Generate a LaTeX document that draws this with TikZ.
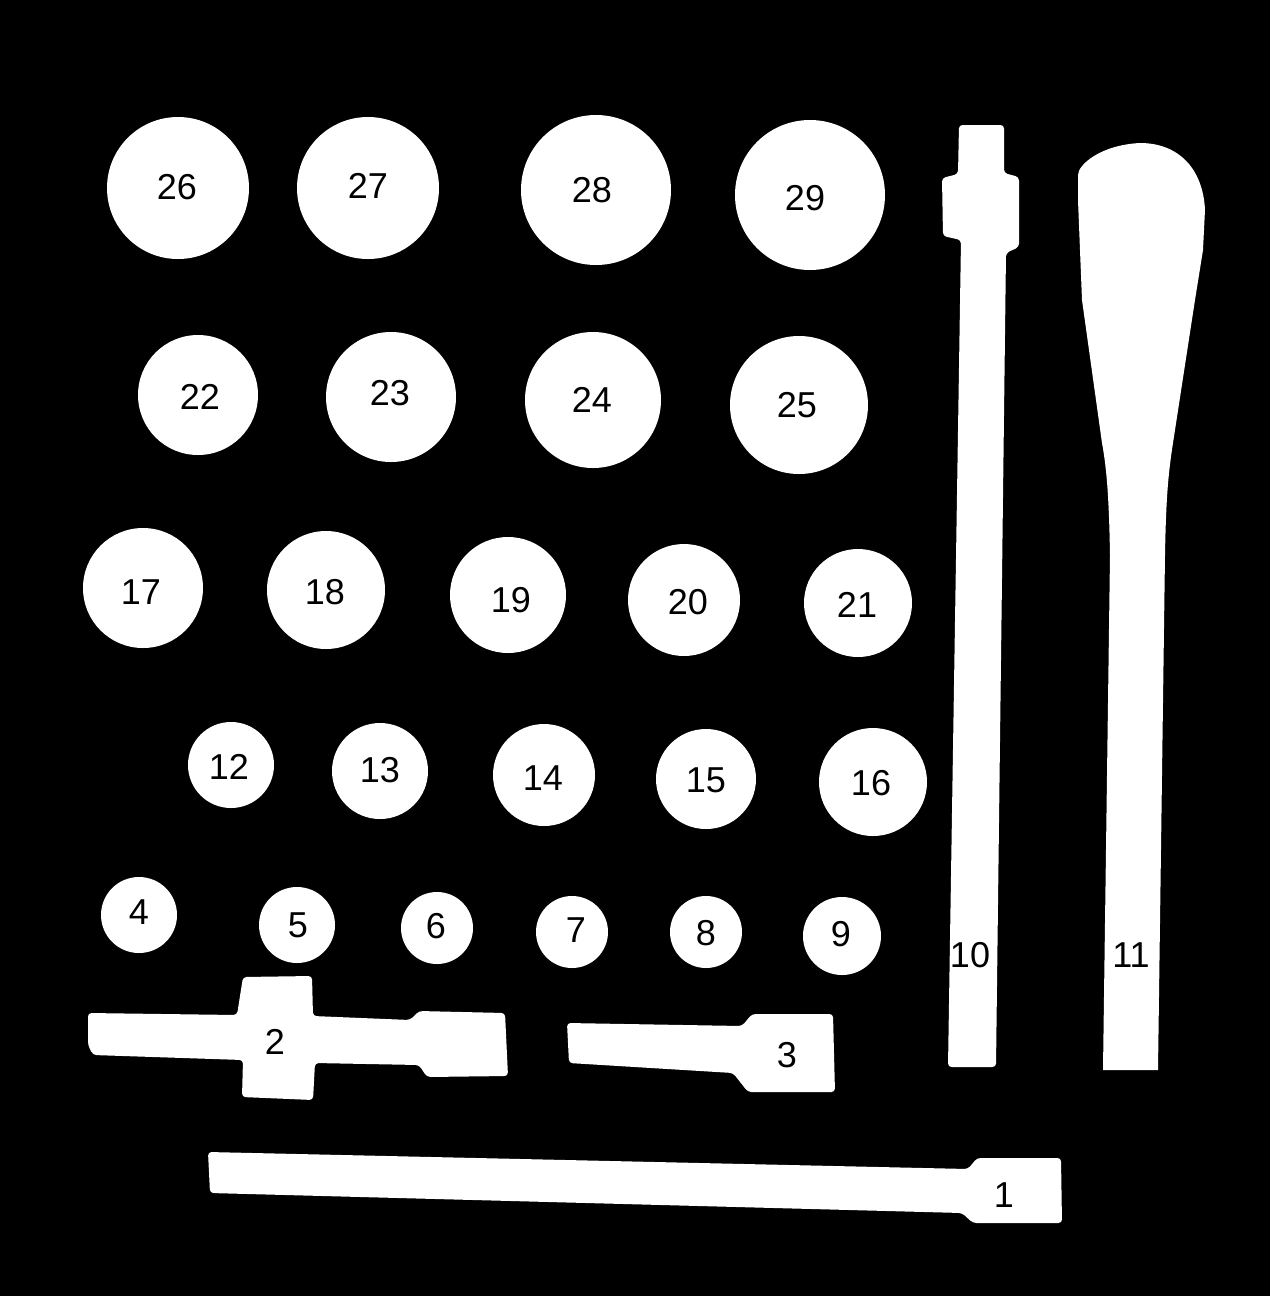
\documentclass[tikz,border=0pt]{standalone}
\usepackage{fontspec}
\setmainfont{Liberation Sans}
\usepackage{tikz}
\tikzset{
  hole/.style={fill=white},
  tool/.style={fill=white, rounded corners=2pt},
  num/.style={text=black, inner sep=0pt, font=\fontsize{20.5}{24}\selectfont},
}

\begin{document}
\begin{tikzpicture}[x=0.02cm, y=-0.02cm]
  % board
  \useasboundingbox (0,0) rectangle (1270,1296);
  \fill[black] (0,0) rectangle (1270,1296);
  % row of large holes
  \fill[hole] (178,188) circle[radius=71]; \node[num] (n26) at (177,187) {26};
  \fill[hole] (368,188) circle[radius=71]; \node[num] (n27) at (368,186) {27};
  \fill[hole] (596,190) circle[radius=75]; \node[num] (n28) at (592,190) {28};
  \fill[hole] (810,195) circle[radius=75]; \node[num] (n29) at (805,198) {29};
  % second row
  \fill[hole] (198,395) circle[radius=60]; \node[num] (n22) at (200,397) {22};
  \fill[hole] (391,397) circle[radius=65]; \node[num] (n23) at (390,393) {23};
  \fill[hole] (593,400) circle[radius=68]; \node[num] (n24) at (592,400) {24};
  \fill[hole] (799,405) circle[radius=69]; \node[num] (n25) at (797,405) {25};
  % third row
  \fill[hole] (143,588) circle[radius=60]; \node[num] (n17) at (141,592) {17};
  \fill[hole] (326,590) circle[radius=59]; \node[num] (n18) at (325,592) {18};
  \fill[hole] (508,595) circle[radius=58]; \node[num] (n19) at (511,600) {19};
  \fill[hole] (684,600) circle[radius=56]; \node[num] (n20) at (688,602) {20};
  \fill[hole] (858,603) circle[radius=54]; \node[num] (n21) at (857,605) {21};
  % fourth row
  \fill[hole] (231,765) circle[radius=43]; \node[num] (n12) at (229,767) {12};
  \fill[hole] (380,771) circle[radius=48]; \node[num] (n13) at (380,770) {13};
  \fill[hole] (544,775) circle[radius=51]; \node[num] (n14) at (543,778) {14};
  \fill[hole] (706,779) circle[radius=50]; \node[num] (n15) at (706,780) {15};
  \fill[hole] (873,782) circle[radius=54]; \node[num] (n16) at (871,783) {16};
  % small holes
  \fill[hole] (139,915) circle[radius=38]; \node[num] (n4) at (139,912) {4};
  \fill[hole] (297,925) circle[radius=38]; \node[num] (n5) at (298,925) {5};
  \fill[hole] (437,928) circle[radius=36]; \node[num] (n6) at (436,926) {6};
  \fill[hole] (572,932) circle[radius=36]; \node[num] (n7) at (576,930) {7};
  \fill[hole] (706,932) circle[radius=36]; \node[num] (n8) at (706,933) {8};
  \fill[hole] (842,936) circle[radius=39]; \node[num] (n9) at (841,934) {9};
  % extension bar (10)
  \fill[tool] (959,125) -- (1004,125) -- (1004,173) -- (1019,177) -- (1019,247)
    -- (1006,253) -- (996,1067) -- (948,1067) -- (961,240) -- (943,236)
    -- (942,178) -- (958,174) -- cycle;
  \node[num] (n10) at (970,955) {10};
  % handle (11)
  \fill[white] (1078,175) .. controls (1078,165) and (1100,145) .. (1140,143)
    .. controls (1178,143) and (1203,168) .. (1205,210) -- (1203,250) -- (1195,300)
    -- (1173,443) .. controls (1168,475) and (1166,500) .. (1165,555)
    -- (1158,1070) -- (1103,1070) -- (1110,555)
    .. controls (1109,500) and (1107,470) .. (1102,443) -- (1082,300) -- (1078,200) -- cycle;
  \node[num] (n11) at (1131,955) {11};
  % T-bar (2)
  \fill[tool] (88,1013) -- (237,1015) -- (243,977) -- (312,976) -- (313,1016)
    -- (410,1020) -- (419,1011) -- (505,1013) -- (508,1076) -- (427,1077)
    -- (419,1065) -- (315,1063) -- (313,1100) -- (242,1097) -- (243,1060)
    -- (93,1055) -- (88,1045) -- cycle;
  \node[num] (n2) at (275,1042) {2};
  % short extension (3)
  \fill[tool] (567,1023) -- (742,1026) -- (752,1014) -- (833,1014) -- (835,1092)
    -- (748,1092) -- (733,1073) -- (569,1063) -- cycle;
  \node[num] (n3) at (787,1055) {3};
  % long extension (1)
  \fill[tool] (208,1152) -- (968,1169) -- (977,1158) -- (1061,1158) -- (1062,1223)
    -- (973,1223) -- (962,1213) -- (210,1193) -- cycle;
  \node[num] (n1) at (1004,1195) {1};
\end{tikzpicture}
\end{document}
